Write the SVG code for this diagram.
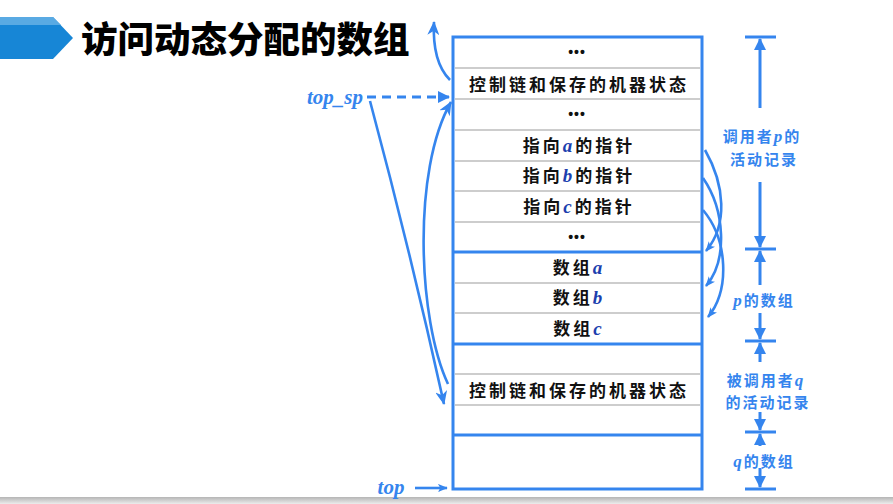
<svg xmlns="http://www.w3.org/2000/svg" width="893" height="504" viewBox="0 0 893 504">
<defs>
<linearGradient id="gbar" x1="0" y1="0" x2="0" y2="1"><stop offset="0" stop-color="#b5b5b5"/><stop offset="1" stop-color="#ececec"/></linearGradient>
<marker id="tri" viewBox="0 0 12 12" refX="11" refY="6" markerWidth="12" markerHeight="12" markerUnits="userSpaceOnUse" orient="auto"><path d="M0,0 L12,6 L0,12 Z" fill="#3585ee"/></marker>
<marker id="stl" viewBox="0 0 14 12" refX="13" refY="6" markerWidth="14" markerHeight="12" markerUnits="userSpaceOnUse" orient="auto"><path d="M0,0 L14,6 L0,12 L4,6 Z" fill="#3585ee"/></marker>
<marker id="sm" viewBox="0 0 12 10" refX="11" refY="5" markerWidth="10" markerHeight="9" markerUnits="userSpaceOnUse" orient="auto"><path d="M0,0 L12,5 L0,10 L3,5 Z" fill="#3585ee"/></marker>
</defs>
<style>
.cell{font-family:"Noto Sans CJK SC","Noto Sans",sans-serif;font-weight:bold;font-size:17px;fill:#111;text-anchor:middle;letter-spacing:3px}
.dots{font-family:"Liberation Sans",sans-serif;font-weight:bold;font-size:14px;fill:#111;text-anchor:middle;letter-spacing:1px}
.it{font-family:"Liberation Serif",serif;font-style:italic;font-weight:bold;fill:#1c3fae;font-size:19px}
.lab{font-family:"Noto Sans CJK SC","Noto Sans",sans-serif;font-weight:bold;font-size:15px;fill:#3585ee;text-anchor:middle;letter-spacing:2px}
.lit{font-family:"Liberation Serif",serif;font-style:italic;font-weight:bold;fill:#3585ee;font-size:17px}
.ptr{font-family:"Liberation Serif",serif;font-style:italic;font-weight:bold;fill:#3585ee;font-size:21px}
.sep{stroke:#bdbdbd;stroke-width:1.6}
.thick{stroke:#3585ee;stroke-width:3}
.ln{stroke:#3585ee;stroke-width:3;fill:none}
.cv{stroke:#3585ee;stroke-width:2.6;fill:none}
</style>
<rect x="0" y="0" width="893" height="504" fill="#fff"/>
<rect x="0" y="497" width="893" height="7" fill="url(#gbar)"/>
<g id="title">
<path d="M0,17 L53,17 L73,38 L53,59 L0,59 Z" fill="#1786d6"/>
<path d="M0,17 L53,17 L61,25 L0,25 Z" fill="#59aae3"/>
<text x="81" y="53" font-family="'Noto Sans CJK SC',sans-serif" font-weight="900" font-size="36.5" fill="#000">访问动态分配的数组</text>
</g>
<g id="stack">
<rect x="453" y="37" width="249" height="452" fill="#fff" class="thick"/>
<line x1="455" y1="68" x2="700" y2="68" class="sep"/>
<line x1="455" y1="99" x2="700" y2="99" class="sep"/>
<line x1="455" y1="130" x2="700" y2="130" class="sep"/>
<line x1="455" y1="161" x2="700" y2="161" class="sep"/>
<line x1="455" y1="191" x2="700" y2="191" class="sep"/>
<line x1="455" y1="222" x2="700" y2="222" class="sep"/>
<line x1="453" y1="252" x2="702" y2="252" class="thick"/>
<line x1="455" y1="283" x2="700" y2="283" class="sep"/>
<line x1="455" y1="313" x2="700" y2="313" class="sep"/>
<line x1="453" y1="344" x2="702" y2="344" class="thick"/>
<line x1="455" y1="374" x2="700" y2="374" class="sep"/>
<line x1="455" y1="405" x2="700" y2="405" class="sep"/>
<line x1="453" y1="435" x2="702" y2="435" class="thick"/>
<text x="577" y="57" class="dots">•••</text>
<text x="579" y="91" class="cell">控制链和保存的机器状态</text>
<text x="577" y="119" class="dots">•••</text>
<text x="579" y="152" class="cell">指向<tspan class="it">a</tspan>的指针</text>
<text x="579" y="182" class="cell">指向<tspan class="it">b</tspan>的指针</text>
<text x="579" y="213" class="cell">指向<tspan class="it">c</tspan>的指针</text>
<text x="577" y="242" class="dots">•••</text>
<text x="579" y="274" class="cell">数组<tspan class="it">a</tspan></text>
<text x="579" y="304" class="cell">数组<tspan class="it">b</tspan></text>
<text x="579" y="335" class="cell">数组<tspan class="it">c</tspan></text>
<text x="579" y="397" class="cell">控制链和保存的机器状态</text>
</g>
<g id="labels">
<text x="335" y="104" class="ptr" text-anchor="middle">top_sp</text>
<text x="391" y="494" class="ptr" text-anchor="middle">top</text>
<text x="762" y="142" class="lab">调用者<tspan class="lit">p</tspan>的</text>
<text x="764" y="165" class="lab">活动记录</text>
<text x="764" y="306" class="lab"><tspan class="lit">p</tspan>的数组</text>
<text x="766" y="386" class="lab">被调用者<tspan class="lit">q</tspan></text>
<text x="768" y="408" class="lab">的活动记录</text>
<text x="764" y="467" class="lab"><tspan class="lit">q</tspan>的数组</text>
</g>
<g id="connectors">
<line x1="367" y1="97" x2="449" y2="97" class="ln" stroke-dasharray="9,6" marker-end="url(#tri)"/>
<line x1="415" y1="488" x2="447" y2="488" class="cv" stroke-width="2.2" marker-end="url(#sm)"/>
<path d="M450,80 Q432,62 434,22" class="cv" marker-end="url(#stl)"/>
<path d="M448,384 C418,320 412,170 451,102" class="cv" marker-end="url(#stl)"/>
<path d="M370,101 Q410,250 444,404" class="cv" marker-end="url(#stl)"/>
<path d="M705,150 C725,185 728,225 706,251" class="cv" stroke-width="2.2" marker-end="url(#sm)"/>
<path d="M703,178 C725,210 728,260 706,286" class="cv" stroke-width="2.2" marker-end="url(#sm)"/>
<path d="M703,210 C728,240 730,290 708,317" class="cv" stroke-width="2.2" marker-end="url(#sm)"/>
<line x1="745" y1="37" x2="776" y2="37" class="thick"/>
<line x1="745" y1="249" x2="776" y2="249" class="thick"/>
<line x1="745" y1="341" x2="776" y2="341" class="thick"/>
<line x1="745" y1="432" x2="776" y2="432" class="thick"/>
<line x1="745" y1="489" x2="776" y2="489" class="thick"/>
<line x1="760" y1="108" x2="760" y2="39" class="ln" marker-end="url(#tri)"/>
<line x1="760" y1="182" x2="760" y2="247" class="ln" marker-end="url(#tri)"/>
<line x1="760" y1="285" x2="760" y2="251" class="ln" marker-end="url(#tri)"/>
<line x1="760" y1="313" x2="760" y2="339" class="ln" marker-end="url(#tri)"/>
<line x1="760" y1="362" x2="760" y2="343" class="ln" marker-end="url(#tri)"/>
<line x1="760" y1="412" x2="760" y2="430" class="ln" marker-end="url(#tri)"/>
<line x1="760" y1="446" x2="760" y2="434" class="ln" marker-end="url(#tri)"/>
<line x1="760" y1="468" x2="760" y2="487" class="ln" marker-end="url(#tri)"/>
</g>
</svg>
